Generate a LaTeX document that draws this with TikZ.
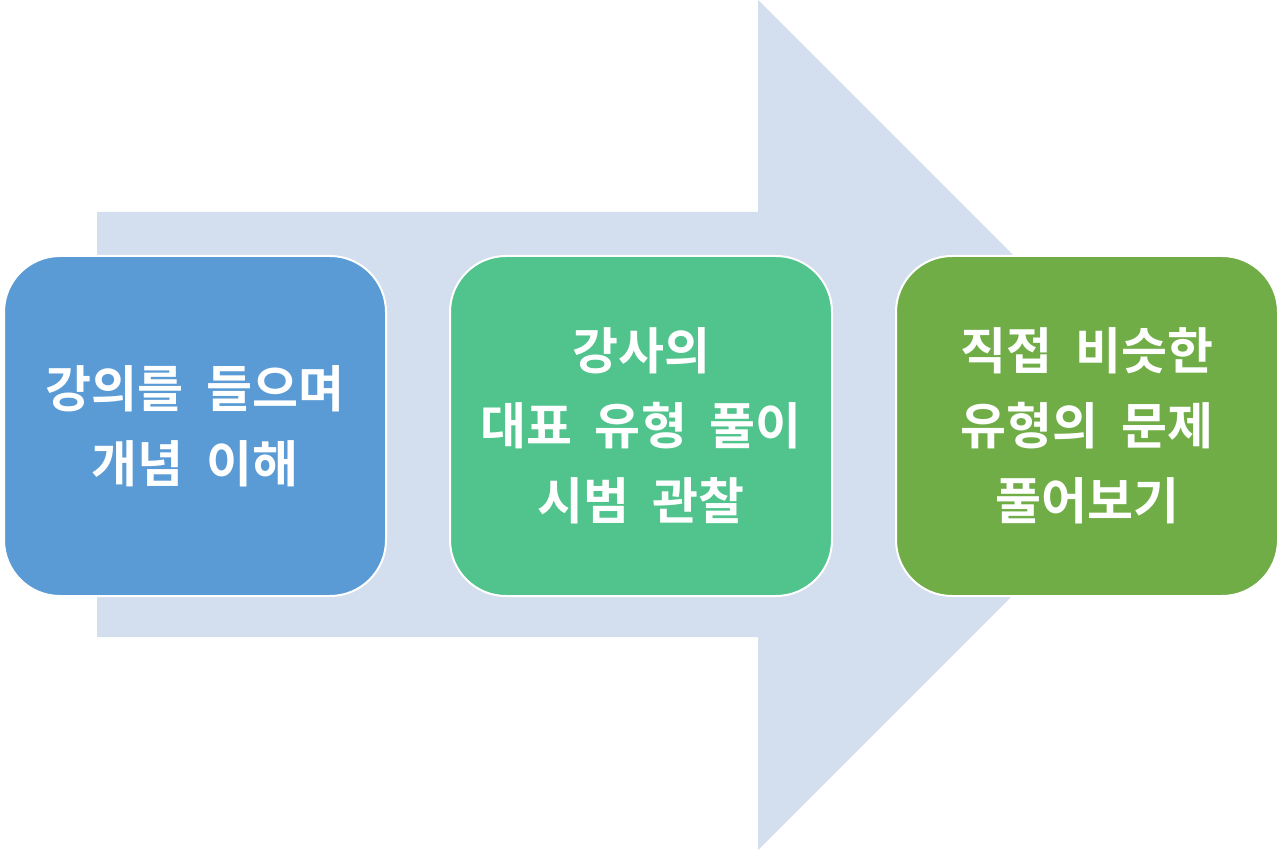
\documentclass[tikz,border=0pt]{standalone}
\usepackage{fontspec}
\newfontfamily\kr[WordSpace=2]{Noto Sans CJK KR Bold}
\definecolor{arrowc}{RGB}{211,222,238}
\definecolor{boxa}{RGB}{91,155,213}
\definecolor{boxb}{RGB}{80,196,140}
\definecolor{boxc}{RGB}{112,173,71}
\tikzset{
  stepbox/.style={draw=white, line width=2pt, rounded corners=56pt, minimum width=382pt, minimum height=340pt, anchor=north west, inner sep=0pt, align=center, text=white, font=\kr\fontsize{50}{75}\selectfont},
}
\begin{document}
\begin{tikzpicture}[x=1pt,y=-1pt]
\useasboundingbox (0,0) rectangle (1280,850);
\fill[arrowc] (97,212) -- (758,212) -- (758,0) -- (1183,425) -- (758,850) -- (758,637) -- (97,637) -- cycle;
\node[stepbox, fill=boxa] (a) at (3,255) {강의를 들으며\\개념 이해};
\node[stepbox, fill=boxb] (b) at (449,255) {강사의\\대표 유형 풀이\\시범 관찰};
\node[stepbox, fill=boxc] (c) at (895,255) {직접 비슷한\\유형의 문제\\풀어보기};
\end{tikzpicture}
\end{document}
